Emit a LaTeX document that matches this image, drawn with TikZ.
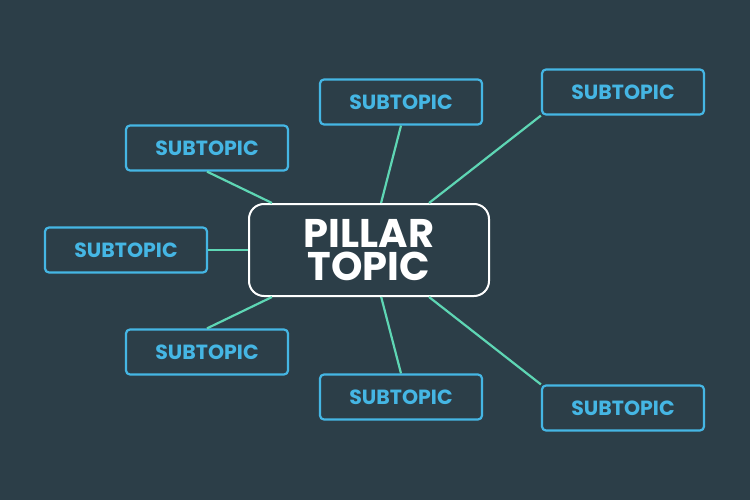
\documentclass[tikz,border=0pt]{standalone}
\usepackage{fontspec}
\setsansfont{Poppins}
\definecolor{slate}{HTML}{2C3E48}
\definecolor{skyblue}{HTML}{45B6E4}
\definecolor{mint}{HTML}{5ED6B4}
\tikzset{
  subtopic/.style={draw=skyblue, line width=2.2pt, rounded corners=4pt,
    minimum width=162pt, minimum height=45pt, inner sep=0pt,
    text=skyblue, font=\sffamily\bfseries\fontsize{20.5}{20}\selectfont},
  pillar/.style={draw=white, line width=2pt, rounded corners=15pt,
    minimum width=240pt, minimum height=92pt, inner sep=0pt, align=center,
    text=white, font=\sffamily\bfseries\fontsize{40}{33}\selectfont},
  link/.style={mint, line width=2.2pt}
}
\begin{document}
\begin{tikzpicture}[x=1pt,y=-1pt]

% background
\fill[slate] (0,0) rectangle (750,500);
\useasboundingbox (0,0) rectangle (750,500);

% central topic
\node[pillar] (pillar) at (369,250) {PILLAR\\TOPIC};

% subtopics around it
\foreach \name/\x/\y in {tc/401/102, tr/623/92, lu/207/148, l/126/250,
    ll/207/352, bc/401/397, br/623/408} {
    \node[subtopic] (\name) at (\x,\y) {SUBTOPIC};
}

% links to the centre
\foreach \name/\anchor in {tc/south, tr/south west, lu/south, l/east,
    ll/north, bc/north, br/north west} {
    \draw[link] (\name.\anchor) -- (pillar);
}

\end{tikzpicture}
\end{document}
